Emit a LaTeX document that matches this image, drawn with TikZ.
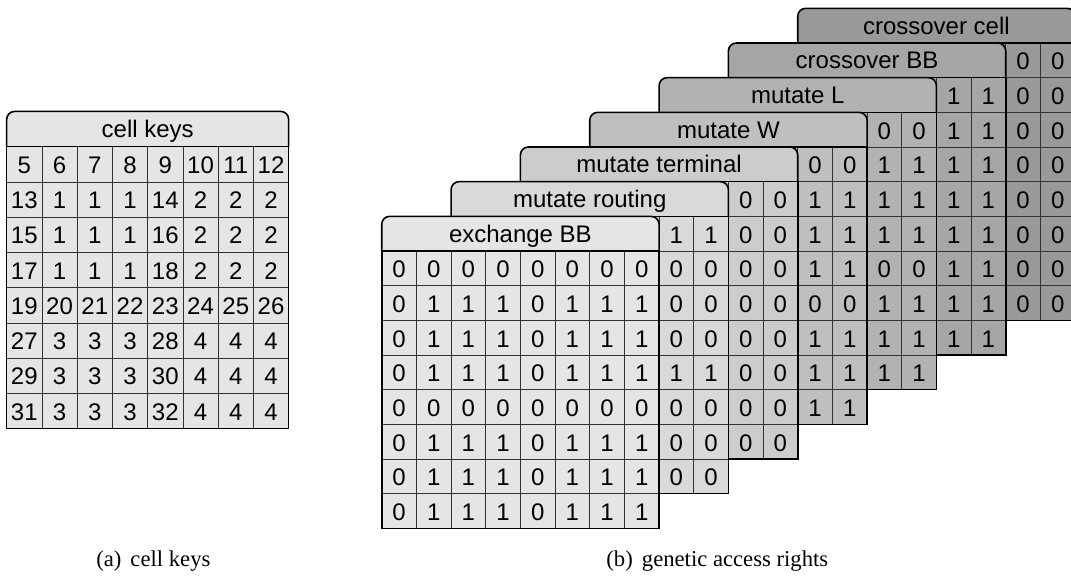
\documentclass[tikz,border=0pt]{standalone}
\usepackage{fontspec}
\setmainfont{Liberation Serif}
\setsansfont{Liberation Sans}
\usepackage{tikz}

\begin{document}
\begin{tikzpicture}[
 frame/.style={line width=1.2pt,draw=black},
 rule/.style={line width=0.6pt,draw=black!80},
 cell/.style={font=\sffamily\fontsize{18}{20}\selectfont,inner sep=0pt,anchor=base},
 caption/.style={font=\fontsize{17}{20}\selectfont,inner sep=0pt,anchor=base}
]
\useasboundingbox (0,0) rectangle (803.25pt,-435.75pt);

% (a) cell keys
\begin{scope}[x=26.44pt,y=26.44pt,shift={(5pt,-110pt)}]
 \filldraw[frame,fill=black!10,rounded corners=6pt] (0,0) -- (0,1) -- (8,1) -- (8,0);
 \fill[black!10] (0,0) rectangle (8,-8);
 \foreach \j in {1,...,7} {
  \draw[rule] (\j,0) -- (\j,-8);
  \draw[rule] (0,-\j) -- (8,-\j);
 }
 \draw[frame] (0,0) rectangle (8,-8);
 \node[cell] (keyshead) at (4,0.25) {cell keys};
 \foreach \row [count=\i from 0] in {{5,6,7,8,9,10,11,12},{13,1,1,1,14,2,2,2},
   {15,1,1,1,16,2,2,2},{17,1,1,1,18,2,2,2},{19,20,21,22,23,24,25,26},
   {27,3,3,3,28,4,4,4},{29,3,3,3,30,4,4,4},{31,3,3,3,32,4,4,4}}
  \foreach \v [count=\j from 0] in \row
   \node[cell] (key-\i-\j) at (\j+0.5,-\i-0.76) {\v};
\end{scope}

% (b) genetic access rights, back layer first
\begin{scope}[x=26pt,y=26pt,shift={(286.3pt,-188.25pt)}]
 \foreach \k/\tone/\title in {6/40/crossover cell,5/35/crossover BB,4/30/mutate L,
   3/25/mutate W,2/20/mutate terminal,1/15/mutate routing,0/10/exchange BB} {
  \begin{scope}[shift={(2*\k,\k)}]
   \filldraw[frame,fill=black!\tone,rounded corners=6pt] (0,0) -- (0,1) -- (8,1) -- (8,0);
   \fill[black!\tone] (0,0) rectangle (8,-8);
   \foreach \j in {1,...,7} {
    \draw[rule] (\j,0) -- (\j,-8);
    \draw[rule] (0,-\j) -- (8,-\j);
   }
   \draw[frame] (0,0) rectangle (8,-8);
   \node[cell] (head\k) at (4,0.25) {\title};
  \end{scope}
 }
 % visible columns of the back layers
 \foreach \k/\vals in {6/{0,0,0,0,0,0,0,0},5/{1,1,1,1,1,1,1,1},4/{0,1,1,1,0,1,1,1},
   3/{0,1,1,1,0,1,1,1},2/{0,0,0,0,0,0,0,0},1/{1,0,0,0,1,0,0,0}}
  \foreach \v [count=\i from 0] in \vals {
   \node[cell] (L\k-\i-6) at (2*\k+6.5,\k-\i-0.77) {\v};
   \node[cell] (L\k-\i-7) at (2*\k+7.5,\k-\i-0.77) {\v};
  }
 % front layer
 \foreach \row [count=\i from 0] in {{0,0,0,0,0,0,0,0},{0,1,1,1,0,1,1,1},
   {0,1,1,1,0,1,1,1},{0,1,1,1,0,1,1,1},{0,0,0,0,0,0,0,0},
   {0,1,1,1,0,1,1,1},{0,1,1,1,0,1,1,1},{0,1,1,1,0,1,1,1}}
  \foreach \v [count=\j from 0] in \row
   \node[cell] (L0-\i-\j) at (\j+0.5,-\i-0.77) {\v};
\end{scope}

\node[caption] (capa) at (115pt,-425pt) {(a)\hspace{0.4em}cell keys};
\node[caption] (capb) at (538pt,-425pt) {(b)\hspace{0.4em}genetic access rights};
\end{tikzpicture}
\end{document}
